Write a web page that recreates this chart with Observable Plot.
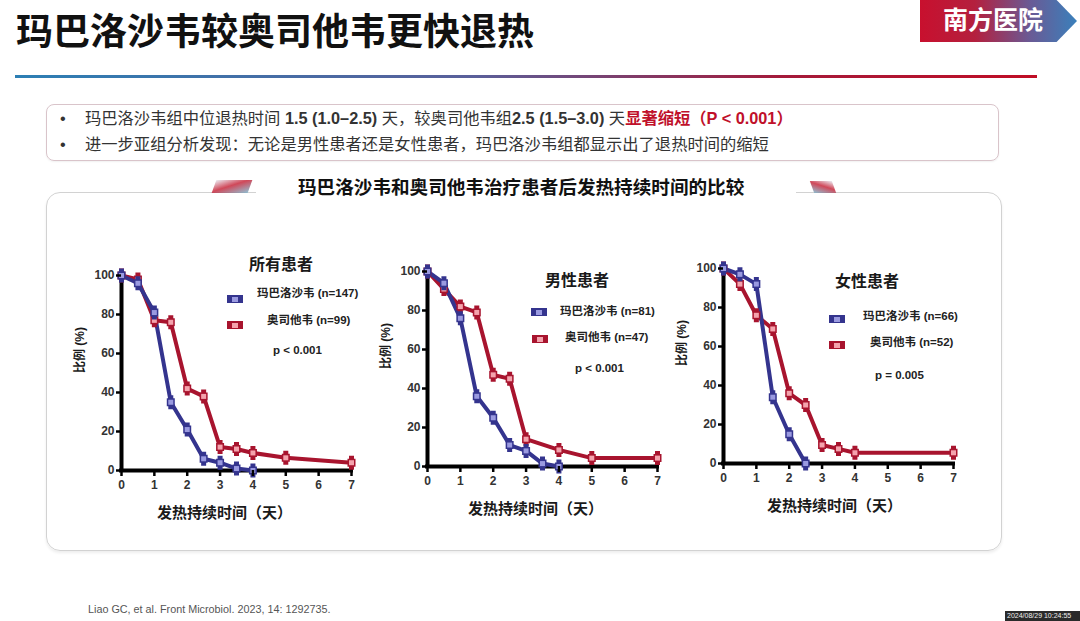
<!DOCTYPE html>
<html><head><meta charset="utf-8">
<script src="https://cdn.jsdelivr.net/npm/d3@7"></script>
<script src="https://cdn.jsdelivr.net/npm/@observablehq/plot@0.6"></script>
<style>
body{margin:0;background:#fff;}
#page{position:relative;width:1080px;height:621px;overflow:hidden;font-family:"Liberation Sans","Noto Sans CJK SC",sans-serif;color:#222;background:#fff;}
.abs{position:absolute;white-space:nowrap;}
.leg{position:absolute;width:16px;height:8px;}
.leg::after{content:"";position:absolute;left:5px;top:1.5px;width:6px;height:5px;}
.legB{background:#34348e;} .legB::after{background:#9a9ae0;}
.legR{background:#a8142e;} .legR::after{background:#f4a3ad;}
.ltxt{position:absolute;white-space:nowrap;font-size:11.5px;font-weight:bold;line-height:14px;color:#222;}
.ptitle{position:absolute;white-space:nowrap;font-size:16px;font-weight:bold;line-height:18px;color:#1a1a1a;}
.plotbox{position:absolute;}
</style></head>
<body><div id="page">
  <div class="abs" style="left:16px;top:11px;font-size:37px;font-weight:bold;line-height:44px;color:#111;">玛巴洛沙韦较奥司他韦更快退热</div>
  <div class="abs" style="left:920px;top:0;width:157px;height:42px;clip-path:polygon(0 0,87% 0,100% 50%,87% 100%,0 100%);background:linear-gradient(to right,#c8102e 0%,#b4203e 35%,#6a5a95 70%,#3a80bb 100%);"></div>
  <div class="abs" style="left:943px;top:5px;font-size:25px;font-weight:bold;line-height:30px;color:#fff;">南方医院</div>
  <div class="abs" style="left:15px;top:75px;width:1022px;height:3px;background:linear-gradient(to right,#2c7fb4 0%,#5a5f9a 45%,#a41a3a 75%,#c00d25 100%);"></div>

  <div class="abs" style="left:46px;top:104px;width:951px;height:55px;border:1px solid #d9c4ca;border-radius:8px;box-shadow:0 1px 2px rgba(0,0,0,0.06);"></div>
  <div class="abs" style="left:60px;top:108px;font-size:16.3px;line-height:21px;color:#333;">•</div>
  <div class="abs" style="left:60px;top:134px;font-size:16.3px;line-height:21px;color:#333;">•</div>
  <div class="abs" style="left:85px;top:108px;font-size:16.3px;line-height:21px;color:#333;">玛巴洛沙韦组中位退热时间 <b>1.5 (1.0–2.5)</b> 天，较奥司他韦组<b>2.5 (1.5–3.0)</b> 天<b style="color:#c0102a;">显著缩短（P &lt; 0.001）</b></div>
  <div class="abs" style="left:85px;top:134px;font-size:16.3px;line-height:21px;color:#333;">进一步亚组分析发现：无论是男性患者还是女性患者，玛巴洛沙韦组都显示出了退热时间的缩短</div>

  <div class="abs" style="left:46px;top:192px;width:954px;height:357px;border:1px solid #d2d2d2;border-radius:14px;box-shadow:0 2px 3px rgba(0,0,0,0.07);"></div>
  <div class="abs" style="left:256px;top:176px;width:540px;height:26px;background:#fff;"></div>
  <div class="abs" style="left:298px;top:176px;font-size:18.6px;font-weight:bold;line-height:24px;color:#111;">玛巴洛沙韦和奥司他韦治疗患者后发热持续时间的比较</div>
  <div class="abs" style="left:214px;top:180px;width:36px;height:13px;background:linear-gradient(160deg,#e8e8f0 0%,#c8283c 45%,#7fb6cc 100%);transform:skewX(-20deg);opacity:0.85;"></div>
  <div class="abs" style="left:812px;top:181px;width:22px;height:12px;background:linear-gradient(200deg,#e8e8f0 0%,#c8283c 45%,#7fb6cc 100%);transform:skewX(20deg);opacity:0.85;"></div>

  <div id="p1" class="plotbox" style="left:69px;top:263px;"></div>
  <div id="p2" class="plotbox" style="left:375px;top:259px;"></div>
  <div id="p3" class="plotbox" style="left:671px;top:256px;"></div>

  <div class="ptitle" style="left:249px;top:256px;">所有患者</div>
  <div class="leg legB" style="left:227px;top:295px;"></div>
  <div class="ltxt" style="left:257px;top:286px;">玛巴洛沙韦 (n=147)</div>
  <div class="leg legR" style="left:227px;top:321px;"></div>
  <div class="ltxt" style="left:267px;top:313px;">奥司他韦 (n=99)</div>
  <div class="ltxt" style="left:273px;top:343px;">p &lt; 0.001</div>

  <div class="ptitle" style="left:545px;top:272px;">男性患者</div>
  <div class="leg legB" style="left:531px;top:308px;"></div>
  <div class="ltxt" style="left:560px;top:304px;">玛巴洛沙韦 (n=81)</div>
  <div class="leg legR" style="left:532px;top:335px;"></div>
  <div class="ltxt" style="left:565px;top:330px;">奥司他韦 (n=47)</div>
  <div class="ltxt" style="left:575px;top:361px;">p &lt; 0.001</div>

  <div class="ptitle" style="left:835px;top:273px;">女性患者</div>
  <div class="leg legB" style="left:829px;top:315px;"></div>
  <div class="ltxt" style="left:863px;top:309px;">玛巴洛沙韦 (n=66)</div>
  <div class="leg legR" style="left:829px;top:341px;"></div>
  <div class="ltxt" style="left:870px;top:335px;">奥司他韦 (n=52)</div>
  <div class="ltxt" style="left:875px;top:368px;">p = 0.005</div>

  <div class="abs" style="left:88px;top:603px;font-size:10.8px;line-height:12px;color:#555;">Liao GC, et al. Front Microbiol. 2023, 14: 1292735.</div>
  <div class="abs" style="left:1005px;top:611px;width:75px;height:10px;background:#2a2a2a;"></div>
  <div class="abs" style="left:1007px;top:611px;font-size:7px;line-height:10px;color:#eee;">2024/08/29 10:24:55</div>
</div>
<script>
// ---- data (percent of patients still febrile vs. days) ----
const xTicks = [0, 1, 2, 3, 4, 5, 6, 7];
const yTicks = [0, 20, 40, 60, 80, 100];
const xLabel = "发热持续时间（天）";
const yLabel = "比例 (%)";

// 所有患者
const allMabDays = [0, 0.5, 1, 1.5, 2, 2.5, 3, 3.5, 4];
const allMabPct  = [100, 96, 81, 35, 21, 6, 4, 1, 0];
const allOseDays = [0, 0.5, 1, 1.5, 2, 2.5, 3, 3.5, 4, 5, 7];
const allOsePct  = [100, 98, 77, 76, 42, 38, 12, 11, 9, 6.5, 4];

// 男性患者
const maleMabDays = [0, 0.5, 1, 1.5, 2, 2.5, 3, 3.5, 4];
const maleMabPct  = [100, 94, 76, 36, 25, 11, 8, 1.5, 0];
const maleOseDays = [0, 0.5, 1, 1.5, 2, 2.5, 3, 4, 5, 7];
const maleOsePct  = [100, 91, 82, 79, 47, 45, 14, 8.5, 4.3, 4.3];

// 女性患者
const femMabDays = [0, 0.5, 1, 1.5, 2, 2.5];
const femMabPct  = [100, 97, 92, 34, 15, 0];
const femOseDays = [0, 0.5, 1, 1.5, 2, 2.5, 3, 3.5, 4, 7];
const femOsePct  = [100, 92, 76, 69, 36, 30, 9.5, 7.5, 5.5, 5.5];

const BLUE = "#34348e", BLUE_L = "#9a9ae0";
const RED = "#a8142e", RED_L = "#f4a3ad";

const outerSym = {draw(ctx) { ctx.rect(-4, -4, 8, 8); ctx.rect(-2.5, -7, 5, 14); }};
const innerSym = {draw(ctx) { ctx.rect(-2.5, -2.5, 5, 5); }};

function rows(xs, ys) { return xs.map((x, i) => ({x, y: ys[i]})); }

function panel(mabX, mabY, oseX, oseY, labelDx) {
  const mab = rows(mabX, mabY), ose = rows(oseX, oseY);
  return Plot.plot({
    width: 300, height: 260,
    marginLeft: 52, marginRight: 18, marginTop: 12, marginBottom: 53,
    x: {domain: [0, 7]},
    y: {domain: [0, 100]},
    style: {fontFamily: '"Liberation Sans","Noto Sans CJK SC",sans-serif', fontSize: "12px", fontWeight: "bold", color: "#333", background: "transparent", overflow: "visible"},
    marks: [
      Plot.ruleX([0], {stroke: "#000", strokeWidth: 4, strokeLinecap: "square"}),
      Plot.ruleY([0], {stroke: "#000", strokeWidth: 4, strokeLinecap: "square"}),
      Plot.line(ose, {x: "x", y: "y", stroke: RED, strokeWidth: 4}),
      Plot.line(mab, {x: "x", y: "y", stroke: BLUE, strokeWidth: 4}),
      Plot.dot(ose, {x: "x", y: "y", symbol: outerSym, fill: RED, r: 4}),
      Plot.dot(ose, {x: "x", y: "y", symbol: innerSym, fill: RED_L, r: 2}),
      Plot.dot(mab, {x: "x", y: "y", symbol: outerSym, fill: BLUE, r: 4}),
      Plot.dot(mab, {x: "x", y: "y", symbol: innerSym, fill: BLUE_L, r: 2}),
      Plot.axisX({ticks: xTicks, tickFormat: d => String(d), tickSize: 6, strokeWidth: 2.5, stroke: "#000", tickPadding: 4, label: null, fill: "#333"}),
      Plot.axisY({ticks: yTicks, tickFormat: d => String(d), tickSize: 5, strokeWidth: 2.5, stroke: "#000", tickPadding: 2, label: null, fill: "#333"}),
      Plot.text([xLabel], {text: d => d, frameAnchor: "bottom", dy: 47, dx: labelDx, fontSize: 15, fontWeight: "bold", fill: "#1a1a1a"}),
      Plot.text([yLabel], {text: d => d, frameAnchor: "left", dx: -41, rotate: -90, fontSize: 12, fontWeight: "bold", fill: "#1a1a1a"})
    ]
  });
}

document.getElementById("p1").append(panel(allMabDays, allMabPct, allOseDays, allOsePct, -12));
document.getElementById("p2").append(panel(maleMabDays, maleMabPct, maleOseDays, maleOsePct, -7));
document.getElementById("p3").append(panel(femMabDays, femMabPct, femOseDays, femOsePct, -4));
</script>
</body></html>
